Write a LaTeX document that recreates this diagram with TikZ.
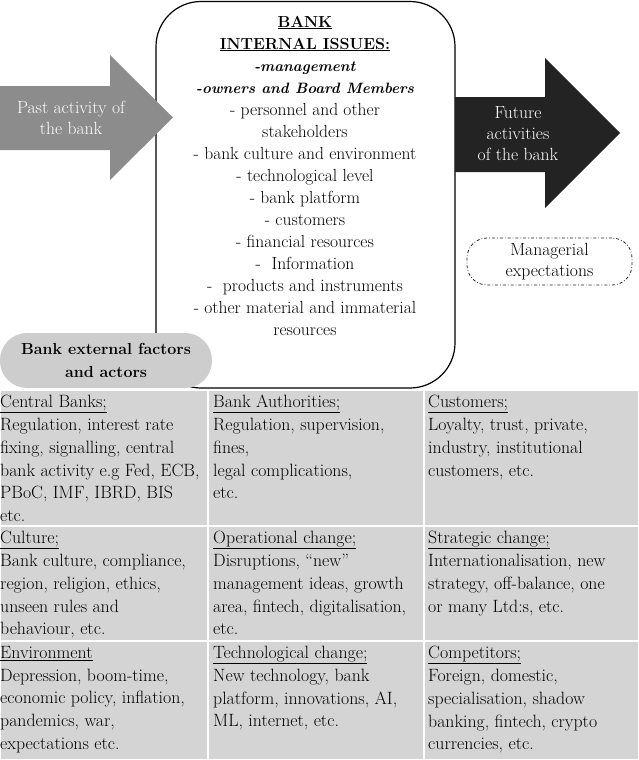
\documentclass[tikz,border=0pt]{standalone}
\usepackage{tikz}
\usetikzlibrary{calc,positioning}
\definecolor{pastgray}{RGB}{140,140,140}
\definecolor{futureblack}{RGB}{35,35,35}
\definecolor{tablegray}{RGB}{212,212,212}
\definecolor{pillgray}{RGB}{205,205,205}
\tikzstyle{tabletext}=[inner sep=0pt, align=left, anchor=north west, font=\fontsize{17.8}{22.8}\selectfont]
\tikzstyle{arrowtext}=[text=white, align=center, inner sep=0pt, font=\fontsize{17.6}{21}\selectfont]
\tikzstyle{issues}=[inner sep=0pt, align=center, font=\fontsize{17.5}{22}\selectfont]
\newcommand{\factorCell}[6]{
	\fill[tablegray, draw=white, line width=2.5pt] #2 rectangle ($#2+(#3,#4)$);
	\node[tabletext] (#1) at ($#2+(#5,5)$) {#6};
}
\newcommand{\issueHead}[1]{{\fontsize{16}{22}\selectfont\underline{\textbf{#1}}}}
\newcommand{\issueBoard}[1]{{\fontsize{15}{22}\selectfont\textbf{\textit{#1}}}}

\begin{document}
\begin{tikzpicture}[x=1pt, y=-1pt]
	\useasboundingbox (0,0) rectangle (639,760);
%
	\draw[rounded corners=45pt, line width=1.2pt, fill=white] (156,1.5) rectangle (455,388);
	\node[issues] (internal) at (305,175.5) {\issueHead{BANK}\\
		\issueHead{INTERNAL ISSUES:}\\
		\issueBoard{-management}\\
		\issueBoard{-owners and Board Members}\\
		- personnel and other\\ stakeholders\\
		- bank culture and environment\\
		- technological level\\
		- bank platform\\
		- customers\\
		- financial resources\\
		-\ \ Information\\
		-\ \ products and instruments\\
		- other material and immaterial\\ resources};
%
	\fill[pastgray] (0,86) -- (110,86) -- (110,55) -- (173,117.5) -- (110,180) -- (110,150) -- (0,150) -- cycle;
	\node[arrowtext] (past) at (71,118) {Past activity of\\ the bank};
%
	\fill[futureblack] (455,97) -- (545,97) -- (545,58) -- (620,133) -- (545,208) -- (545,172) -- (455,172) -- cycle;
	\node[arrowtext] (future) at (518,134) {Future\\ activities\\ of the bank};
%
	\node[draw=black!85, line width=0.8pt, dash dot, rounded corners=20pt, minimum width=165pt, minimum height=47pt,
		align=center, font=\fontsize{17.6}{21}\selectfont] (managerial) at (549.5,261.5) {Managerial\\ expectations};
%
	\node[fill=pillgray, rounded corners=27pt, minimum width=212pt, minimum height=55pt, align=center,
		inner sep=0pt, font=\bfseries\fontsize{16}{22.5}\selectfont] (external) at (106,360.5) {Bank external factors\\ and actors};
%
	\factorCell{central}{(0,390)}{208}{136}{0}{\underline{Central Banks;}\\ Regulation, interest rate\\ fixing, signalling, central\\ bank activity e.g Fed, ECB,\\ PBoC, IMF, IBRD, BIS\\ etc.}
	\factorCell{authorities}{(208,390)}{216}{136}{5}{\underline{Bank Authorities;}\\ Regulation, supervision,\\ fines,\\ legal complications,\\ etc.}
	\factorCell{customers}{(424,390)}{215}{136}{4}{\underline{Customers;}\\ Loyalty, trust, private,\\ industry, institutional\\ customers, etc.}
%
	\factorCell{culture}{(0,526)}{208}{115}{0}{\underline{Culture;}\\ Bank culture, compliance,\\ region, religion, ethics,\\ unseen rules and\\ behaviour, etc.}
	\factorCell{operational}{(208,526)}{216}{115}{5}{\underline{Operational change;}\\ Disruptions, “new”\\ management ideas, growth\\ area, fintech, digitalisation,\\ etc.}
	\factorCell{strategic}{(424,526)}{215}{115}{4}{\underline{Strategic change;}\\ Internationalisation, new\\ strategy, off-balance, one\\ or many Ltd:s, etc.}
%
	\factorCell{environment}{(0,641)}{208}{119}{0}{\underline{Environment}\\ Depression, boom-time,\\ economic policy, inflation,\\ pandemics, war,\\ expectations etc.}
	\factorCell{technological}{(208,641)}{216}{119}{5}{\underline{Technological change;}\\ New technology, bank\\ platform, innovations, AI,\\ ML, internet, etc.}
	\factorCell{competitors}{(424,641)}{215}{119}{4}{\underline{Competitors;}\\ Foreign, domestic,\\ specialisation, shadow\\ banking, fintech, crypto\\ currencies, etc.}
\end{tikzpicture}
\end{document}
